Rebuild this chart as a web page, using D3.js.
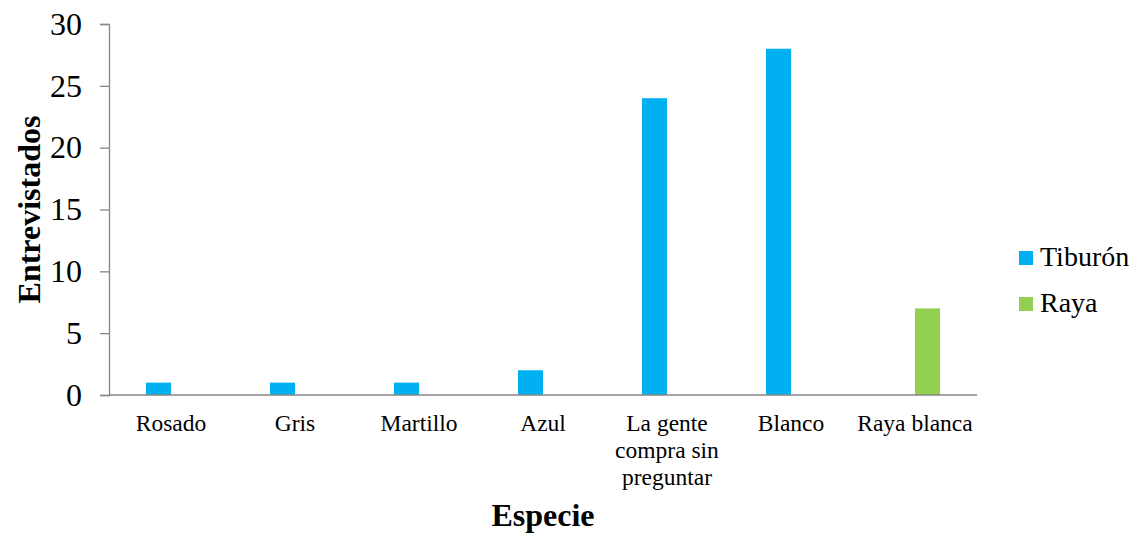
<!DOCTYPE html>
<html>
<head>
<meta charset="utf-8">
<script src="https://cdn.jsdelivr.net/npm/d3@7"></script>
<style>
  html, body { margin: 0; padding: 0; background: #fff; }
  svg { display: block; }
  text { font-family: "Liberation Serif", "Times New Roman", serif; fill: #000; }
</style>
</head>
<body>
<svg id="chart" width="1130" height="533"></svg>
<script>
// Species reported by interviewees
const categories = ["Rosado", "Gris", "Martillo", "Azul", "La gente compra sin preguntar", "Blanco", "Raya blanca"];
const categoryLines = [["Rosado"], ["Gris"], ["Martillo"], ["Azul"], ["La gente", "compra sin", "preguntar"], ["Blanco"], ["Raya blanca"]];
const seriesNames = ["Tiburón", "Raya"];
const tiburon = [1, 1, 1, 2, 24, 28, 0];
const raya = [0, 0, 0, 0, 0, 0, 7];
const seriesColors = ["#00B0F0", "#92D050"];
const yTicks = [0, 5, 10, 15, 20, 25, 30];

const serif = '"Liberation Serif", "Times New Roman", serif';
const svg = d3.select("#chart");
const margin = { left: 109, right: 153, top: 24, bottom: 138 };
const W = 1130, H = 533;
const innerW = W - margin.left - margin.right;
const innerH = H - margin.top - margin.bottom;

const g = svg.append("g").attr("transform", `translate(${margin.left},${margin.top})`);

const x0 = d3.scaleBand().domain(categories).range([0, innerW]).padding(0);
const bw = x0.bandwidth();
const x1 = d3.scaleBand().domain(seriesNames).range([bw * 0.2984, bw * 0.7016]).padding(0);
const y = d3.scaleLinear().domain([0, 30]).range([innerH, 0]);

const values = [tiburon, raya];
const rows = [];
categories.forEach((c, i) => {
  seriesNames.forEach((s, j) => rows.push({ cat: c, series: s, value: values[j][i], color: seriesColors[j] }));
});

// Bars
g.selectAll("rect.bar")
  .data(rows.filter(d => d.value > 0))
  .join("rect")
  .attr("class", "bar")
  .attr("x", d => x0(d.cat) + x1(d.series))
  .attr("width", x1.bandwidth())
  .attr("y", d => y(d.value))
  .attr("height", d => y(0) - y(d.value))
  .attr("fill", d => d.color);

// Y axis
const yAxis = g.append("g")
  .call(d3.axisLeft(y).tickValues(yTicks).tickSize(9).tickPadding(18).tickFormat(d3.format("d")));
yAxis.attr("font-family", serif).attr("font-size", 32);
yAxis.select(".domain").attr("stroke", "#868686").attr("stroke-width", 1.3);
yAxis.selectAll(".tick line").attr("stroke", "#868686").attr("stroke-width", 1.3);
yAxis.selectAll(".tick text")
  .style("font-family", serif)
  .style("font-size", "32px").attr("fill", "#000");

// X baseline
g.append("line")
  .attr("x1", 0).attr("x2", innerW)
  .attr("y1", y(0)).attr("y2", y(0))
  .attr("stroke", "#868686").attr("stroke-width", 1.3);

// Category labels
const catG = g.append("g");
categories.forEach((c, i) => {
  const t = catG.append("text")
    .attr("x", x0(c) + bw / 2)
    .attr("y", innerH + 36)
    .attr("text-anchor", "middle")
    .style("font-family", serif)
    .style("font-size", "23.5px");
  categoryLines[i].forEach((line, k) => {
    t.append("tspan").attr("x", x0(c) + bw / 2).attr("dy", k === 0 ? 0 : 27).text(line);
  });
});

// Axis titles
svg.append("text")
  .attr("transform", `translate(40,${margin.top + innerH / 2}) rotate(-90)`)
  .attr("text-anchor", "middle")
  .style("font-family", serif)
  .style("font-size", "32px").style("font-weight", "bold")
  .text("Entrevistados");

svg.append("text")
  .attr("x", margin.left + innerW / 2)
  .attr("y", 526)
  .attr("text-anchor", "middle")
  .style("font-family", serif)
  .style("font-size", "32px").style("font-weight", "bold")
  .text("Especie");

// Legend
const legend = svg.append("g").attr("transform", "translate(1019,251)");
seriesNames.forEach((s, i) => {
  const row = legend.append("g").attr("transform", `translate(0,${i * 46})`);
  row.append("rect").attr("width", 14).attr("height", 14).attr("fill", seriesColors[i]);
  row.append("text").attr("x", 21).attr("y", 15)
    .style("font-family", serif)
    .style("font-size", "28px").text(s);
});
</script>
</body>
</html>
